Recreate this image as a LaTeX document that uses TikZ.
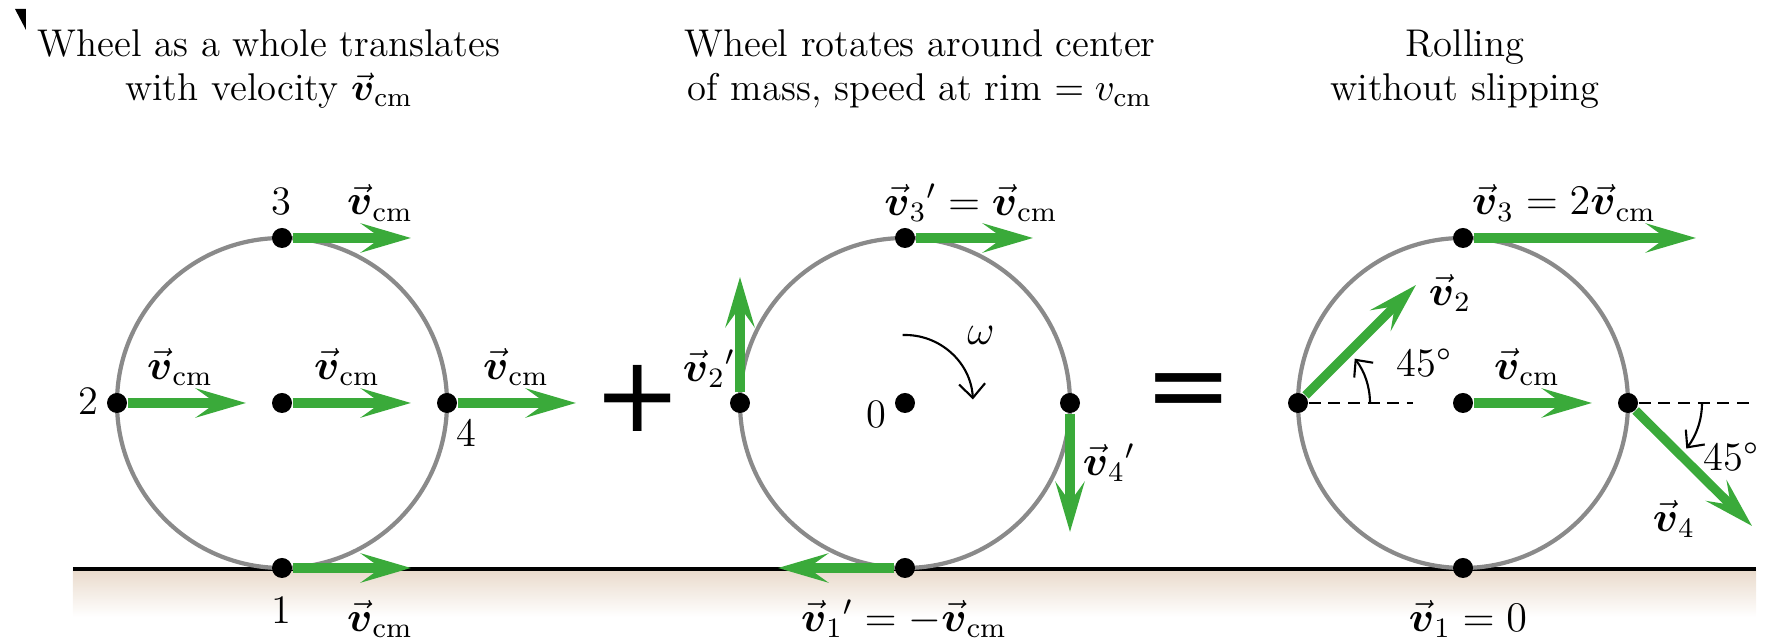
\documentclass[tikz,border=0pt]{standalone}
\usepackage{amsmath,amssymb}
\usepackage{fontspec}
\newfontfamily\opfont{DejaVu Sans}
\usetikzlibrary{arrows.meta,calc}
\definecolor{vecgreen}{HTML}{3AAA3A}
\definecolor{rimgray}{HTML}{8A8A8A}
\definecolor{groundtan}{HTML}{E9DACB}
\newcommand{\vel}{\vec{\boldsymbol{v}}}
\newcommand{\velcm}{\vel_{\mathrm{cm}}}

\begin{document}
\begin{tikzpicture}[
  font=\fontsize{11.5}{12.8}\selectfont,
  >={Stealth[length=5mm,width=2.9mm,inset=2mm]},
  velocity/.style={->, draw=vecgreen, line width=2.6pt},
  wheel/.style={
    circle, draw=rimgray, line width=1.2pt,
    minimum size=3.3cm, inner sep=0pt, outer sep=0pt
  },
  dot/.style={circle, fill=black, minimum size=2mm, inner sep=0pt},
  tag/.style={inner sep=1pt},
  ground/.style={draw=black, line width=1.3pt},
  refline/.style={draw=black, line width=0.6pt, dash pattern=on 3.4pt off 2.2pt},
  anglearc/.style={
    -{Straight Barb[length=1.3mm,width=2.4mm]},
    draw=black, line width=0.6pt
  },
  title/.style={align=center, font=\fontsize{11}{12.6}\selectfont},
  bigop/.style={font=\opfont\fontsize{30}{30}\selectfont}
]
\useasboundingbox (0,0) rectangle (17.71,6.39);

% Corner mark.
\fill (0.15,6.30) -- (0.26,6.30) -- (0.26,6.09) -- cycle;

% Ground under the three wheels.
\coordinate (groundL) at (0.73,0.70);
\coordinate (groundR) at (17.56,0.70);
\shade[top color=groundtan, bottom color=white]
  (groundL) rectangle ($(groundR)+(0,-0.48)$);
\draw[ground] (groundL) -- (groundR);

% Wheels.
\node[wheel] (wheelA) at (2.82,2.36) {};
\node[wheel] (wheelB) at (9.05,2.36) {};
\node[wheel] (wheelC) at (14.63,2.36) {};

% Points on the rim and the centre of each wheel.
\node[dot] (p0A) at (wheelA.center) {};
\node[dot] (p1A) at (wheelA.south) {};
\node[dot] (p2A) at (wheelA.west) {};
\node[dot] (p3A) at (wheelA.north) {};
\node[dot] (p4A) at (wheelA.east) {};

\node[dot] (p0B) at (wheelB.center) {};
\node[dot] (p1B) at (wheelB.south) {};
\node[dot] (p2B) at (wheelB.west) {};
\node[dot] (p3B) at (wheelB.north) {};
\node[dot] (p4B) at (wheelB.east) {};

\node[dot] (p0C) at (wheelC.center) {};
\node[dot] (p1C) at (wheelC.south) {};
\node[dot] (p2C) at (wheelC.west) {};
\node[dot] (p3C) at (wheelC.north) {};
\node[dot] (p4C) at (wheelC.east) {};

% Translation: every point moves with v_cm.
\coordinate (v0A) at ($(p0A)+(1.29,0)$);
\coordinate (v1A) at ($(p1A)+(1.29,0)$);
\coordinate (v2A) at ($(p2A)+(1.29,0)$);
\coordinate (v3A) at ($(p3A)+(1.29,0)$);
\coordinate (v4A) at ($(p4A)+(1.29,0)$);
\draw[velocity] (p0A) -- (v0A);
\draw[velocity] (p1A) -- (v1A);
\draw[velocity] (p2A) -- (v2A);
\draw[velocity] (p3A) -- (v3A);
\draw[velocity] (p4A) -- (v4A);

\node[tag] (n1A) at (2.81,0.29) {1};
\node[tag] (n2A) at (0.88,2.38) {2};
\node[tag] (n3A) at (2.81,4.37) {3};
\node[tag] (n4A) at (4.66,2.06) {4};
\node[tag] (l0A) at (3.47,2.72) {$\velcm$};
\node[tag] (l1A) at (3.80,0.20) {$\velcm$};
\node[tag] (l2A) at (1.80,2.72) {$\velcm$};
\node[tag] (l3A) at (3.80,4.36) {$\velcm$};
\node[tag] (l4A) at (5.16,2.72) {$\velcm$};

% Rotation about the centre of mass.
\coordinate (v1B) at ($(p1B)+(-1.27,0)$);
\coordinate (v2B) at ($(p2B)+(0,1.26)$);
\coordinate (v3B) at ($(p3B)+(1.28,0)$);
\coordinate (v4B) at ($(p4B)+(0,-1.29)$);
\draw[velocity] (p1B) -- (v1B);
\draw[velocity] (p2B) -- (v2B);
\draw[velocity] (p3B) -- (v3B);
\draw[velocity] (p4B) -- (v4B);
\draw[-{Straight Barb[length=1.4mm,width=2.6mm]}, line width=0.6pt]
  ($(wheelB.center)+(92:0.68)$) arc[start angle=92, end angle=3, radius=0.68];

\node[tag] (n0B) at (8.76,2.24) {0};
\node[tag] (omega) at (9.81,3.04) {$\omega$};
\node[tag] (l1B) at (9.04,0.20) {$\vel_1{}' = -\velcm$};
\node[tag] (l2B) at (7.09,2.70) {$\vel_2{}'$};
\node[tag] (l3B) at (9.71,4.36) {$\vel_3{}' = \velcm$};
\node[tag] (l4B) at (11.09,1.76) {$\vel_4{}'$};

% Rolling: the sum of the two motions.
\coordinate (v0C) at ($(p0C)+(1.29,0)$);
\coordinate (v2C) at ($(p2C)+(1.18,1.18)$);
\coordinate (v3C) at ($(p3C)+(2.33,0)$);
\coordinate (v4C) at ($(p4C)+(1.24,-1.23)$);
\coordinate (ref2C) at ($(p2C)+(1.15,0)$);
\coordinate (ref4C) at ($(p4C)+(1.28,0)$);
\draw[refline] (p2C) -- (ref2C);
\draw[refline] (p4C) -- (ref4C);
\draw[velocity] (p0C) -- (v0C);
\draw[velocity] (p2C) -- (v2C);
\draw[velocity] (p3C) -- (v3C);
\draw[velocity] (p4C) -- (v4C);
\draw[anglearc] ($(p2C)+(0:0.72)$) arc[start angle=0, end angle=38, radius=0.72];
\draw[anglearc] ($(p4C)+(0:0.74)$) arc[start angle=0, end angle=-38, radius=0.74];

\node[tag] (a2C) at (14.24,2.76) {45°};
\node[tag] (a4C) at (17.31,1.82) {45°};
\node[tag] (l0C) at (15.27,2.72) {$\velcm$};
\node[tag] (l1C) at (14.68,0.20) {$\vel_1 = 0$};
\node[tag] (l2C) at (14.50,3.46) {$\vel_2$};
\node[tag] (l3C) at (15.64,4.36) {$\vel_3 = 2\velcm$};
\node[tag] (l4C) at (16.74,1.20) {$\vel_4$};

% Plus and equals between the wheels.
\node[bigop] (plus) at (6.38,2.41) {+};
\node[bigop] (equals) at (11.89,2.41) {=};

% Column titles.
\node[title] (titleA) at (2.69,5.70)
  {Wheel as a whole translates\\with velocity $\velcm$};
\node[title] (titleB) at (9.20,5.70)
  {Wheel rotates around center\\of mass, speed at rim $= v_{\mathrm{cm}}$};
\node[title] (titleC) at (14.65,5.70)
  {Rolling\\without slipping};

\end{tikzpicture}
\end{document}
